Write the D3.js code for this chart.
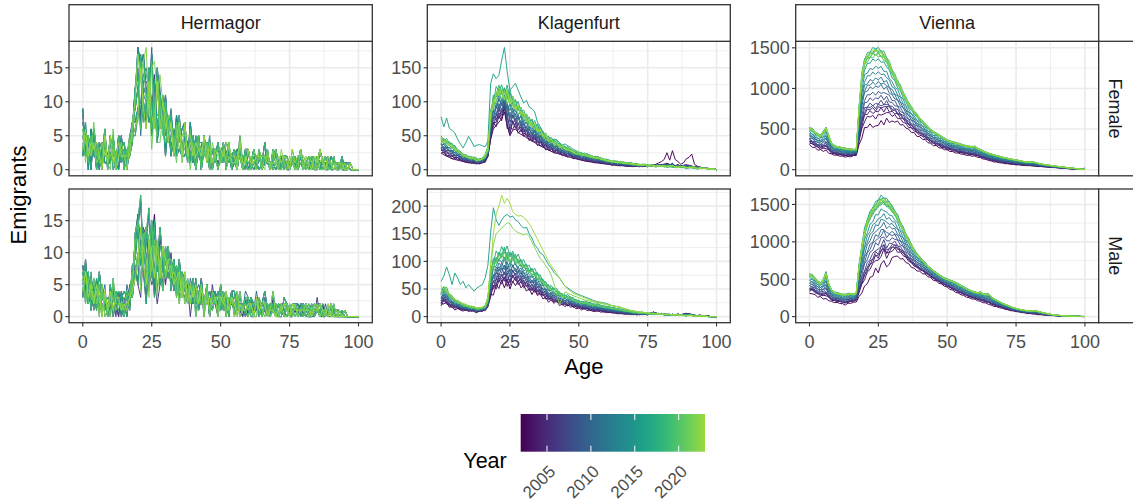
<!DOCTYPE html>
<html>
<head>
<meta charset="utf-8">
<script src="https://cdn.jsdelivr.net/npm/d3@7"></script>
<title>Emigrants by age</title>
<style>
  body { margin: 0; background: #fff; }
  svg { display: block; font-family: "Liberation Sans", Arial, sans-serif; }
</style>
</head>
<body>
<svg id="chart" width="1133" height="502"></svg>
<script>
var years = [2002,2003,2004,2005,2006,2007,2008,2009,2010,2011,2012,2013,2014,2015,2016,2017,2018,2019,2020,2021,2022,2023];
var ages = d3.range(0, 101);
var places = ["Hermagor", "Klagenfurt", "Vienna"];
var sexes = ["Female", "Male"];
var xTicks = [0, 25, 50, 75, 100];
var legendTicks = [2005, 2010, 2015, 2020];

// Hermagor: two base rows per sex, per-year mix weight, shared noise rows
var hermFLo = [7,3,4,2,5,3,1,2,3,0, 2,4,1,2,3,1,2,3,5,9, 9,7,8,6,10,5,7,5,4,6, 4,5,3,4,2,5,1,3,2,1,
  3,1,4,2,3,2,1,3,2,1, 2,3,1,2,0,2,1,3,1,2, 1,0,2,1,1,0,2,1,0,1, 2,1,0,1,1,0,2,1,0,1, 1,0,1,2,0,1,1,0,1,0, 1,1,0,0,1,0,1,0,0,0, 0];
var hermFHi = [3,5,2,4,3,1,3,2,4,1, 3,2,0,4,2,3,1,2,6,7, 12,15,13,14,11,13,10,12,11,8, 8,5,7,4,6,5,4,6,3,5,
  2,3,3,1,4,2,3,1,2,3, 1,2,2,3,1,2,0,2,1,1, 2,1,1,0,2,1,1,2,0,1, 1,0,2,1,0,1,1,0,1,2, 0,1,1,0,1,0,2,1,0,1, 0,1,0,1,0,0,0,1,0,0, 0];
var hermMLo = [5,8,3,6,2,4,1,3,2,0, 3,2,1,4,0,2,1,3,4,9, 7,6,8,5,6,9,5,4,6,4, 8,6,7,5,6,4,5,3,4,2,
  3,4,2,3,1,3,2,4,2,1, 3,2,1,2,3,1,2,0,2,1, 2,1,0,1,2,1,1,0,1,2, 0,1,1,0,1,1,0,2,1,0, 1,1,0,1,0,2,1,0,1,0, 1,0,0,1,0,0,0,0,0,0, 0];
var hermMHi = [6,3,5,2,4,3,5,2,3,1, 2,4,3,1,3,2,4,2,6,8, 13,13,11,12,12,11,12,11,10,10, 7,9,6,8,5,6,4,6,3,5,
  4,2,3,4,2,3,1,2,3,2, 2,3,2,1,2,3,1,2,1,2, 1,2,1,2,0,1,2,1,0,1, 1,0,1,2,1,0,1,1,0,1, 0,1,1,0,1,0,1,1,0,1, 0,1,0,0,0,0,0,0,0,0, 0];
var hermFW = [0.1,0.6,0.3,0.9,0.5,0.2,0.8,0.4,1,0.7,0,0.5,0.3,0.9,0.6,0.1,0.8,0.4,0.7,0.2,1,0.5];
var hermMW = [0.7,0.2,0.9,0.4,0,0.6,0.3,1,0.5,0.8,0.1,0.6,0.9,0.3,0.7,0.5,0.2,1,0.4,0.8,0,0.6];
var hermNoise = [
  [2,-1,1,-2,1,0,-1,2,-2,1, -1,1,0,-2,2,-1,1,0,1,3, 5,-2,3,4,-3,2,6,-1,3,2, -2,3,-1,2,0,-2,1,-1,2,0,
   1,-1,0,2,-1,1,-1,0,1,-1, 0,1,-1,1,0,-1,2,0,-1,1, -1,1,0,-1,1,0,-1,1,0,2, 0,-1,1,0,-1,1,0,0,-1,1, 0,1,-1,0,1,0,-1,1,0,0, 1,0,-1,0,0,1,0,0,0,0, 0],
  [-2,2,-1,1,-1,2,0,-2,1,0, 2,-2,1,1,-1,0,-2,1,-1,-2, -3,4,-2,-4,2,-1,-3,4,-2,3, 2,-1,2,-2,1,2,-1,2,-1,1,
   -1,2,-1,0,1,-1,2,-1,0,1, 1,-1,2,0,1,0,-1,1,0,-1, 1,0,-1,1,0,1,0,-1,1,0, -1,1,0,1,0,-1,1,0,1,0, 1,0,0,-1,1,0,1,0,-1,1, 0,-1,1,0,0,0,-1,0,0,0, 0],
  [1,0,2,-1,0,-2,2,1,-1,2, 0,1,-1,2,0,2,-1,-1,2,1, 2,6,-3,1,5,-2,2,-3,4,-1, 1,2,-2,1,-1,3,0,-2,1,-1,
   2,0,1,-2,0,2,0,1,-1,2, -1,0,1,-1,2,1,0,-1,1,0, 0,1,1,0,-1,1,2,0,-1,1, 1,0,-1,1,1,0,-1,1,0,0, -1,1,0,1,0,1,0,-1,1,0, 0,0,1,0,1,0,0,0,0,0, 0],
  [-1,1,-2,2,-1,1,-1,0,2,-1, 1,0,2,-1,1,-2,2,0,-2,4, 6,1,4,-2,-1,5,-2,3,1,-2, 3,0,1,-1,2,-1,2,1,-2,2,
   0,1,2,-1,1,0,1,-2,1,0, 2,-1,0,1,-1,1,1,0,-1,2, 1,-1,0,2,0,-1,1,0,1,-1, 0,1,0,-1,1,0,1,0,0,1, 1,-1,0,1,-1,0,1,0,0,-1, 1,0,0,0,0,1,0,0,0,0, 0],
  [0,-2,1,0,2,-1,1,-1,0,1, -2,2,-1,0,-1,1,0,2,1,-1, -2,-3,2,3,1,-4,1,-2,-1,2, -1,1,3,0,-2,1,-1,0,1,-2,
   1,-2,0,1,-1,2,-1,1,0,-1, 0,1,-1,0,1,-1,0,2,0,-1, -1,0,1,0,1,-1,0,1,0,0, 1,-1,0,0,1,0,0,-1,1,0, 0,0,1,-1,0,1,-1,0,1,0, -1,1,0,0,0,0,0,0,0,0, 0]
];

// Klagenfurt
var klagFLo = [25,22,20,18,16,15,14,13,12,11, 10,10,9,9,9,10,12,20,45,60, 65,70,75,85,65,50,58,60,55,52, 50,47,45,42,40,37,35,33,31,29,
  27,25,24,23,22,20,19,18,17,16, 15,14,13,12,12,11,10,10,9,9, 8,8,7,7,6,6,6,5,5,5, 5,5,5,5,5,5,6,6,6,7, 7,8,10,7,9,6,7,5,6,8, 6,5,4,4,3,3,2,2,1,1, 0];
var klagFHi = [45,42,40,38,35,32,28,25,22,20, 18,17,16,15,15,16,20,30,80,100, 110,115,115,112,110,105,100,95,90,85, 80,76,72,68,64,60,56,52,49,46,
  43,40,38,36,34,32,30,28,26,25, 24,23,22,21,20,19,18,17,16,15, 14,13,12,12,11,11,10,10,9,9, 8,8,7,7,7,6,6,6,5,5, 5,5,5,5,5,4,4,4,4,3, 3,3,3,2,2,2,2,1,1,1, 0];
var klagMLo = [20,25,22,18,16,15,14,12,12,11, 10,10,9,9,10,10,12,18,35,45, 50,55,60,60,58,55,60,62,58,55, 52,50,48,45,43,40,38,35,33,30,
  28,26,25,23,22,20,19,18,17,16, 15,14,13,12,11,10,10,9,9,8, 8,7,7,6,6,5,5,5,4,4, 4,4,4,4,4,4,5,8,6,5, 5,4,4,3,3,3,4,3,4,6, 5,3,2,2,2,1,1,1,0,0, 0];
var klagMHi = [45,52,48,40,35,30,28,25,22,20, 18,17,16,15,15,16,18,30,80,100, 108,112,118,120,115,110,112,108,104,100, 96,92,88,84,80,75,70,65,60,56,
  52,49,46,43,40,38,36,34,32,30, 28,27,26,25,24,23,22,21,20,19, 18,17,16,15,14,13,12,11,10,9, 8,8,7,7,6,6,5,5,5,4, 4,4,4,3,3,3,3,2,2,2, 2,2,1,1,1,1,1,0,0,0, 0];
var klagFW = [0,0.1,0.15,0.2,0.3,0.35,0.45,0.5,0.6,0.55,0.7,0.8,0.9,1.05,1.0,1.1,1.1,1.0,0.95,0.9,1.0,0.95];
var klagMW = [0,0.1,0.15,0.2,0.25,0.3,0.4,0.45,0.5,0.55,0.65,0.75,0.85,0.95,1.0,1.05,1.0,0.9,0.85,0.9,1.0,1.0];
var klagF2002 = [25,22,20,18,16,15,14,13,12,11, 10,10,9,9,9,10,12,20,45,60, 65,70,75,85,65,50,58,60,55,52, 50,47,45,42,40,37,35,33,31,29,
  27,25,24,23,22,20,19,18,17,16, 15,14,13,12,12,11,10,10,9,9, 8,8,7,7,6,6,6,5,5,5, 5,5,5,5,5,5,6,6,8,10, 12,15,25,14,28,15,12,8,10,16, 18,23,8,5,3,3,2,2,1,1, 0];
var klagF2016 = [78,63,76,61,58,54,45,38,32,40, 49,42,34,36,37,35,34,42,127,141, 134,139,161,180,144,117,122,127,117,107, 98,102,92,90,85,70,63,55,49,46,
  44,45,44,40,36,38,35,33,30,28, 26,24,22,21,20,18,17,16,15,14, 13,12,12,11,10,10,9,9,8,8, 8,7,7,6,6,6,5,5,5,5, 5,5,4,4,4,4,4,3,3,3, 3,3,2,2,2,2,2,1,1,1, 0];
var klagM2016 = [64,73,90,76,58,79,70,58,64,52, 58,52,46,52,55,58,70,93,152,197, 175,165,175,182,185,180,182,175,172,165, 160,162,150,142,130,124,115,112,103,94,
  88,80,75,70,62,55,52,48,45,42, 40,38,36,34,32,30,28,27,26,25, 24,22,20,19,18,17,15,14,12,11, 10,9,8,8,7,7,6,6,5,5, 5,4,4,4,3,3,3,3,2,2, 2,2,1,1,1,1,1,0,0,0, 0];
var klagM2022 = [55,50,45,40,35,30,28,25,22,20, 20,18,17,16,16,17,20,35,90,130, 150,155,160,165,170,168,160,155,152,150, 148,150,145,135,125,115,105,100,92,85,
  75,60,40,22,35,45,42,40,38,36, 34,32,30,29,28,27,26,25,24,23, 22,21,20,19,18,17,15,14,12,11, 10,9,8,8,7,7,6,6,5,5, 5,4,4,4,3,3,3,3,2,2, 2,2,1,1,1,1,1,0,0,0, 0];
var klagM2023 = [50,55,48,42,38,32,28,26,24,22, 20,18,17,16,16,17,20,35,95,150, 185,200,220,205,214,205,190,185,182,183, 180,175,168,160,150,140,130,120,110,100,
  92,85,78,70,62,55,50,46,42,40, 38,36,34,32,30,28,27,26,25,24, 22,21,20,19,18,17,15,14,12,11, 10,9,8,8,7,7,6,6,5,5, 5,4,4,4,3,3,3,3,2,2, 2,2,1,1,1,1,1,0,0,0, 0];
var klagNoise = [
  [3,-2,4,-1,2,-3,1,0,-2,2, -1,2,0,-2,1,-1,2,3,5,-6, 8,-4,6,-8,10,-5,4,-6,7,-3, 5,-4,3,-5,6,-2,4,-3,2,-4,
   3,-2,4,-3,1,-2,3,-1,2,-2, 1,-2,2,-1,1,0,-1,2,-1,1, -1,1,0,1,-1,1,0,-1,1,0, 1,-1,0,1,0,-1,1,0,-1,1, 0,1,-1,0,1,0,-1,0,1,0, 0,1,0,-1,0,0,0,0,0,0, 0],
  [-3,2,-2,1,-2,2,-1,1,0,-1, 1,-1,2,0,-1,1,-2,-1,-4,6, -6,5,-7,6,-9,7,-3,5,-5,4, -4,3,-5,4,-3,5,-2,3,-4,2,
   -2,3,-1,2,-3,2,-1,2,-2,1, -1,1,-1,2,0,-1,1,0,1,-1, 1,0,-1,0,1,-1,1,0,0,1, 0,1,-1,0,1,0,-1,1,0,0, 1,0,0,1,-1,0,1,0,0,-1, 1,0,0,0,1,0,0,0,0,0, 0],
  [1,3,-1,-2,1,0,2,-1,1,0, 0,-1,1,2,-1,0,1,-2,2,3, -2,7,-5,3,-4,-7,8,-3,-2,6, -3,6,-2,-4,4,-5,3,-2,5,-3,
   2,-3,2,-1,3,-1,-2,3,-1,2, 2,-1,0,1,-2,1,0,-1,1,0, 0,-1,1,-1,0,1,-1,1,0,-1, -1,0,1,-1,0,1,0,-1,1,0, 1,-1,0,0,1,-1,0,1,0,0, 0,0,1,0,0,0,0,0,0,0, 0]
];

// Vienna
var vienFLo = [300,290,270,250,240,230,230,210,190,180, 175,170,165,160,160,160,170,180,300,400, 500,530,550,540,530,560,580,560,620,600,
  590,600,580,560,540,520,490,470,450,420, 400,380,360,340,320,300,290,275,260,250, 240,230,220,210,200,195,185,180,175,170,
  165,155,145,135,125,115,105,98,92,86, 80,75,72,68,64,60,58,55,52,50, 48,45,42,40,38,35,32,30,27,25, 22,20,18,15,12,10,8,6,4,3, 20];
var vienFHi = [520,500,470,440,430,470,520,420,330,300, 285,280,270,265,260,255,250,250,770,1180, 1370,1420,1460,1490,1510,1495,1470,1440,1390,1320,
  1240,1170,1100,1030,960,890,830,775,725,685, 640,600,565,530,500,470,450,430,410,390, 370,355,345,335,325,315,305,295,290,285,
  290,265,250,235,220,205,195,185,175,165, 155,148,140,133,127,120,115,108,100,95, 92,95,90,80,72,65,60,55,50,45, 40,36,32,28,24,20,16,12,9,6, 4];
var vienMLo = [300,320,290,270,260,240,230,220,200,190, 185,180,170,160,175,180,190,200,260,330, 390,450,510,560,640,600,680,760,650,720,
  780,820,790,780,760,730,700,670,640,620, 600,580,560,540,520,490,470,450,430,410, 390,370,350,330,310,295,280,265,250,240,
  230,215,200,190,180,165,150,140,130,120, 110,100,90,82,75,68,62,56,50,45, 40,36,32,28,25,22,19,16,14,12, 10,8,7,6,5,4,3,2,2,1, 1];
var vienMHi = [570,560,520,480,450,500,590,440,360,330, 320,310,300,300,310,310,300,320,690,950, 1170,1300,1400,1470,1530,1570,1600,1590,1570,1540,
  1480,1420,1350,1270,1190,1110,1040,970,900,850, 800,760,720,680,650,620,590,565,540,520, 505,490,475,460,440,420,400,380,360,345,
  330,320,330,310,300,310,270,240,220,200, 180,165,150,135,120,110,100,92,85,80, 78,78,80,70,60,50,42,35,28,22, 18,15,12,10,8,6,5,4,3,2, 2];
var vienFW = [0,0.12,0.18,0.22,0.28,0.25,0.35,0.42,0.5,0.55,0.6,0.68,0.75,0.85,0.95,1.0,0.97,0.93,0.9,0.92,0.95,0.97];
var vienMW = [0,0.15,0.2,0.22,0.25,0.3,0.38,0.45,0.5,0.58,0.65,0.72,0.8,0.9,1.0,0.98,0.95,0.93,0.9,0.92,0.94,0.96];
var vienNoise = [
  [10,-15,5,-10,8,-5,12,-8,5,-3, 6,-4,3,-6,5,-3,4,-5,10,-15, 20,-10,15,-20,10,-15,25,-10,15,-20, 10,-15,20,-10,15,-8,10,-12,8,-10,
   8,-6,10,-8,5,-6,8,-5,6,-4, 5,-6,4,-5,6,-3,4,-5,3,-4, 4,-3,5,-4,3,-2,3,-3,2,-2, 3,-2,2,-3,2,-1,2,-2,1,-1, 2,-1,1,-2,1,-1,1,0,-1,1, 1,0,-1,1,0,0,1,0,0,0, 0],
  [-8,12,-6,8,-10,6,-5,10,-6,4, -5,6,-4,5,-6,4,-3,6,-8,12, -15,20,-12,15,-25,10,-15,20,-10,15, -12,10,-15,12,-10,8,-12,10,-6,8,
   -6,8,-5,6,-8,5,-4,6,-5,3, -4,5,-3,4,-5,4,-3,4,-2,3, -3,4,-2,3,-4,2,-3,2,-2,2, -2,3,-1,2,-2,1,-2,1,-1,1, -1,2,-1,1,-1,1,0,-1,1,0, 0,1,0,-1,0,0,0,0,0,0, 0]
];

var panels = [
  {col: 0, row: 0, lo: hermFLo, hi: hermFHi, w: hermFW, noise: hermNoise, whole: true, fixed: []},
  {col: 1, row: 0, lo: klagFLo, hi: klagFHi, w: klagFW, noise: klagNoise, whole: false, fixed: [[2002, klagF2002], [2016, klagF2016]]},
  {col: 2, row: 0, lo: vienFLo, hi: vienFHi, w: vienFW, noise: vienNoise, whole: false, fixed: []},
  {col: 0, row: 1, lo: hermMLo, hi: hermMHi, w: hermMW, noise: hermNoise, whole: true, fixed: []},
  {col: 1, row: 1, lo: klagMLo, hi: klagMHi, w: klagMW, noise: klagNoise, whole: false, fixed: [[2016, klagM2016], [2022, klagM2022], [2023, klagM2023]]},
  {col: 2, row: 1, lo: vienMLo, hi: vienMHi, w: vienMW, noise: vienNoise, whole: false, fixed: []}
];

var cols = [{x0: 69, x1: 372.3}, {x0: 427.3, x1: 730.3}, {x0: 795.7, x1: 1098.7}];
var rows = [{y0: 41.3, y1: 175.8}, {y0: 189, y1: 322.7}];
var stripTop = 4.7;
var stripRight = 1135;
var tickSize = 18;

var color = d3.scaleSequential(function(t) { return d3.interpolateViridis(t * 0.85); })
  .domain([d3.min(years), d3.max(years)]);

function lineValues(p, i) {
  var fix = p.fixed.filter(function(f) { return f[0] === years[i]; });
  if (fix.length) return fix[0][1];
  var w = p.w[i], n = p.noise[i % p.noise.length];
  return ages.map(function(a) {
    var v = p.lo[a] * (1 - w) + p.hi[a] * w + n[a];
    if (p.whole) v = Math.round(v);
    return Math.max(0, v);
  });
}

var svg = d3.select("#chart");
svg.append("rect").attr("width", 1133).attr("height", 502).attr("fill", "#fff");

var grid = "#ebebeb", frame = "#333333", tickText = "#4d4d4d";

panels.forEach(function(p, pi) {
  var c = cols[p.col], r = rows[p.row];
  var x = d3.scaleLinear().domain([-5, 105]).range([c.x0, c.x1]);
  var lines = years.map(function(yr, i) { return {year: yr, v: lineValues(p, i)}; });
  var ymax = d3.max(lines, function(l) { return d3.max(l.v); });
  var y = d3.scaleLinear().domain([-0.05 * ymax, 1.05 * ymax]).range([r.y1, r.y0]);
  var dom = y.domain();
  var major = d3.ticks(dom[0], dom[1], 4).filter(function(t) { return t >= dom[0] && t <= dom[1]; });
  var step = major[1] - major[0];
  var minor = major.map(function(t) { return t + step / 2; }).concat([major[0] - step / 2])
    .filter(function(t) { return t > dom[0] && t < dom[1]; });
  var xMinor = [12.5, 37.5, 62.5, 87.5];

  var g = svg.append("g");
  g.append("rect").attr("x", c.x0).attr("y", r.y0).attr("width", c.x1 - c.x0).attr("height", r.y1 - r.y0).attr("fill", "#fff");

  g.selectAll(".ymin").data(minor).enter().append("line")
    .attr("x1", c.x0).attr("x2", c.x1).attr("y1", y).attr("y2", y)
    .attr("stroke", grid).attr("stroke-width", 0.8);
  g.selectAll(".xmin").data(xMinor).enter().append("line")
    .attr("y1", r.y0).attr("y2", r.y1).attr("x1", x).attr("x2", x)
    .attr("stroke", grid).attr("stroke-width", 0.8);
  g.selectAll(".ymaj").data(major).enter().append("line")
    .attr("x1", c.x0).attr("x2", c.x1).attr("y1", y).attr("y2", y)
    .attr("stroke", grid).attr("stroke-width", 1.6);
  g.selectAll(".xmaj").data(xTicks).enter().append("line")
    .attr("y1", r.y0).attr("y2", r.y1).attr("x1", x).attr("x2", x)
    .attr("stroke", grid).attr("stroke-width", 1.6);

  svg.append("clipPath").attr("id", "clip" + pi).append("rect")
    .attr("x", c.x0).attr("y", r.y0).attr("width", c.x1 - c.x0).attr("height", r.y1 - r.y0);

  var line = d3.line().x(function(d, a) { return x(ages[a]); }).y(function(d) { return y(d); });
  g.append("g").attr("clip-path", "url(#clip" + pi + ")")
    .selectAll("path").data(lines).enter().append("path")
    .attr("d", function(l) { return line(l.v); })
    .attr("fill", "none")
    .attr("stroke", function(l) { return color(l.year); })
    .attr("stroke-width", 0.95);

  g.append("rect").attr("x", c.x0).attr("y", r.y0).attr("width", c.x1 - c.x0).attr("height", r.y1 - r.y0)
    .attr("fill", "none").attr("stroke", frame).attr("stroke-width", 1.3);

  // y axis
  g.selectAll(".ytk").data(major).enter().append("line")
    .attr("x1", c.x0 - 3.7).attr("x2", c.x0).attr("y1", y).attr("y2", y)
    .attr("stroke", frame).attr("stroke-width", 1.1);
  g.selectAll(".ylab").data(major).enter().append("text")
    .attr("x", c.x0 - 6).attr("y", function(d) { return y(d) + 6.4; })
    .attr("text-anchor", "end").attr("font-size", tickSize).attr("fill", tickText)
    .text(function(d) { return d; });

  // x axis on the bottom row
  if (p.row === 1) {
    g.selectAll(".xtk").data(xTicks).enter().append("line")
      .attr("y1", r.y1).attr("y2", r.y1 + 3.7).attr("x1", x).attr("x2", x)
      .attr("stroke", frame).attr("stroke-width", 1.1);
    g.selectAll(".xlab").data(xTicks).enter().append("text")
      .attr("x", x).attr("y", r.y1 + 25.5)
      .attr("text-anchor", "middle").attr("font-size", tickSize).attr("fill", tickText)
      .text(function(d) { return d; });
  }

  // strips
  if (p.row === 0) {
    g.append("rect").attr("x", c.x0).attr("y", stripTop).attr("width", c.x1 - c.x0).attr("height", r.y0 - stripTop)
      .attr("fill", "#fff").attr("stroke", frame).attr("stroke-width", 1.3);
    g.append("text").attr("x", (c.x0 + c.x1) / 2).attr("y", (stripTop + r.y0) / 2 + 6.4)
      .attr("text-anchor", "middle").attr("font-size", tickSize).attr("fill", "#1a1a1a")
      .text(places[p.col]);
  }
  if (p.col === 2) {
    g.append("rect").attr("x", c.x1).attr("y", r.y0).attr("width", stripRight - c.x1).attr("height", r.y1 - r.y0)
      .attr("fill", "#fff").attr("stroke", frame).attr("stroke-width", 1.3);
    var cy = (r.y0 + r.y1) / 2;
    g.append("text").attr("transform", "translate(" + (c.x1 + 10.5) + "," + cy + ") rotate(90)")
      .attr("text-anchor", "middle").attr("font-size", tickSize).attr("fill", "#1a1a1a")
      .text(sexes[p.row]);
  }
});

// axis titles
svg.append("text").attr("x", (cols[0].x0 + cols[2].x1) / 2).attr("y", 374)
  .attr("text-anchor", "middle").attr("font-size", 22).attr("fill", "#000").text("Age");
svg.append("text").attr("transform", "translate(26,195) rotate(-90)")
  .attr("text-anchor", "middle").attr("font-size", 22).attr("fill", "#000").text("Emigrants");

// colour bar legend
var bar = {x0: 520.7, x1: 705, y0: 414, y1: 451.7};
var grad = svg.append("defs").append("linearGradient").attr("id", "yearGrad");
d3.range(0, 1.0001, 0.05).forEach(function(t) {
  grad.append("stop").attr("offset", (t * 100) + "%").attr("stop-color", d3.interpolateViridis(t * 0.85));
});
svg.append("rect").attr("x", bar.x0).attr("y", bar.y0).attr("width", bar.x1 - bar.x0).attr("height", bar.y1 - bar.y0)
  .attr("fill", "url(#yearGrad)");
var lx = d3.scaleLinear().domain([d3.min(years), d3.max(years)]).range([bar.x0, bar.x1]);
legendTicks.forEach(function(t) {
  svg.append("line").attr("x1", lx(t)).attr("x2", lx(t)).attr("y1", bar.y0).attr("y2", bar.y0 + 6)
    .attr("stroke", "#fff").attr("stroke-width", 1);
  svg.append("line").attr("x1", lx(t)).attr("x2", lx(t)).attr("y1", bar.y1 - 6).attr("y2", bar.y1)
    .attr("stroke", "#fff").attr("stroke-width", 1);
  svg.append("text").attr("transform", "translate(" + (lx(t) + 9.4) + "," + 472.5 + ") rotate(-45)")
    .attr("text-anchor", "end").attr("font-size", 17).attr("fill", tickText).text(t);
});
svg.append("text").attr("x", 463.3).attr("y", 468.3).attr("font-size", 21.5).attr("fill", "#000").text("Year");
</script>
</body>
</html>
